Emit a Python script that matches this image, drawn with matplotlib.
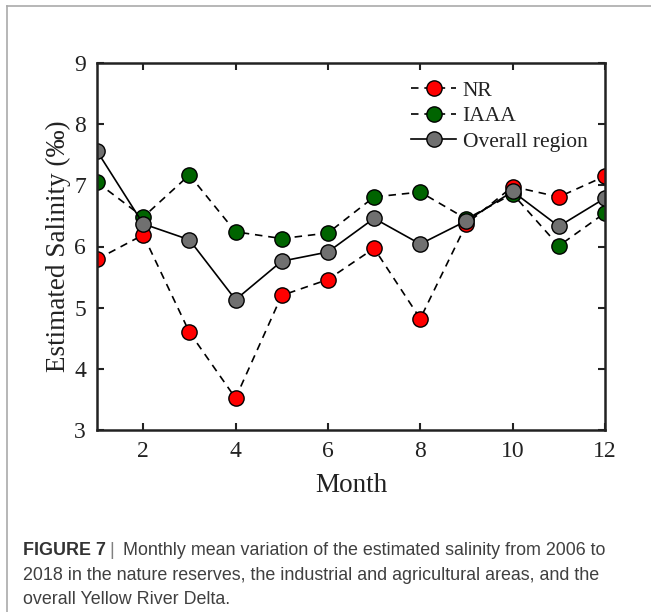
import matplotlib.pyplot as plt
from matplotlib.lines import Line2D

months = [1, 2, 3, 4, 5, 6, 7, 8, 9, 10, 11, 12]
nr = [5.79, 6.19, 4.60, 3.52, 5.20, 5.46, 5.97, 4.82, 6.37, 6.98, 6.81, 7.15]
iaaa = [7.05, 6.48, 7.17, 6.24, 6.13, 6.22, 6.81, 6.89, 6.45, 6.86, 6.01, 6.55]
overall = [7.56, 6.37, 6.11, 5.13, 5.76, 5.91, 6.46, 6.04, 6.42, 6.90, 6.33, 6.79]

caption_bold = 'FIGURE 7'
caption_lines = ['Monthly mean variation of the estimated salinity from 2006 to',
                 '2018 in the nature reserves, the industrial and agricultural areas, and the',
                 'overall Yellow River Delta.']

plt.rcParams['font.family'] = ['Liberation Serif', 'DejaVu Serif']

fig = plt.figure(figsize=(6.51, 6.12), dpi=100)
ax = fig.add_axes([97 / 651, 1 - 430 / 612, 508 / 651, 367 / 612])

mk = dict(marker='o', markersize=11, markeredgecolor='black', markeredgewidth=1.0)
ax.plot(months, nr, color='black', linestyle=(0, (4.5, 3.5)), lw=1.2,
        markerfacecolor='#ff0000', label='NR', **mk)
ax.plot(months, iaaa, color='black', linestyle=(0, (4.5, 3.5)), lw=1.2,
        markerfacecolor='#006400', label='IAAA', **mk)
ax.plot(months, overall, color='black', linestyle='-', lw=1.2,
        markerfacecolor='#707070', label='Overall region', **mk)

ax.set_xlim(1, 12)
ax.set_ylim(3, 9)
ax.set_xticks([2, 4, 6, 8, 10, 12])
ax.set_yticks([3, 4, 5, 6, 7, 8, 9])
ax.tick_params(direction='in', length=5, width=1.5, labelsize=17, top=True, right=True,
               colors='#222222', pad=8)
for s in ax.spines.values():
    s.set_linewidth(1.8)
    s.set_color('#222222')
ax.set_xlabel('Month', fontsize=19.5, color='#222222', labelpad=8)
ax.set_ylabel('Estimated Salinity (‰)', fontsize=19.5, color='#222222', labelpad=2)

leg = ax.legend(loc='upper right', frameon=False, fontsize=15.5, handlelength=2.1,
                handletextpad=0.3, labelspacing=0.25, borderaxespad=0.42,
                bbox_to_anchor=(1.0, 1.0))
for t in leg.get_texts():
    t.set_color('#222222')

# caption, one text per line
cap_kw = dict(fontsize=12.9, family='Liberation Sans', va='baseline')
fig.text(23 / 651, 1 - 555 / 612, caption_bold, fontweight='bold', color='#333333', **cap_kw)
fig.text(109 / 651, 1 - 555 / 612, '|', color='#808080', **cap_kw)
fig.text(123 / 651, 1 - 555 / 612, caption_lines[0], color='#404040', **cap_kw)
fig.text(23 / 651, 1 - 580 / 612, caption_lines[1], color='#404040', **cap_kw)
fig.text(23 / 651, 1 - 604 / 612, caption_lines[2], color='#404040', **cap_kw)

# frame lines
fig.add_artist(Line2D([7 / 651, 7 / 651], [0, 1 - 6 / 612], color='#aaaaaa', lw=1.2))
fig.add_artist(Line2D([7 / 651, 1], [1 - 6 / 612, 1 - 6 / 612], color='#aaaaaa', lw=1.2))

fig.savefig('out.png', dpi=100)
